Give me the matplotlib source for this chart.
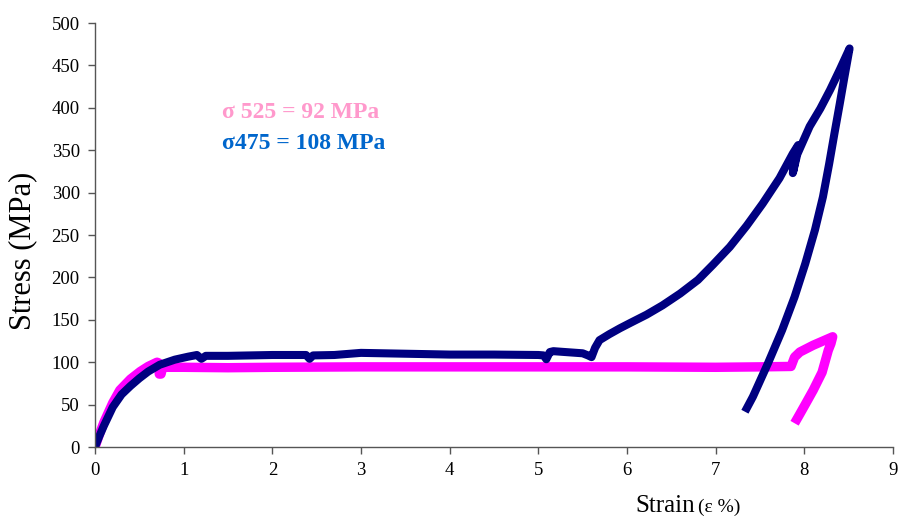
import matplotlib
matplotlib.use("Agg")
import matplotlib.pyplot as plt

# sigma 525 curve (magenta)
m_strain = [0, 0.05, 0.1, 0.2, 0.28, 0.4, 0.51, 0.6, 0.7, 0.72, 0.725, 0.745, 0.76, 0.8,
            1.0, 1.5, 2.0, 3.0, 4.0, 5.0, 6.0, 7.0, 7.5, 7.85, 7.89, 7.95, 8.1, 8.32,
            8.3, 8.27, 8.2, 8.1, 8.02, 7.95, 7.89]
m_stress = [0, 15, 29, 52, 67, 80, 89, 95, 100, 99, 86, 86, 93, 94,
            94, 93.5, 94, 94.5, 94.5, 94.5, 94.5, 94, 94.5, 95, 106, 112, 120, 130,
            122, 114, 88, 67, 52, 39, 28]

# sigma 475 curve (navy)
n_strain = [0, 0.05, 0.1, 0.2, 0.3, 0.4, 0.5, 0.6, 0.73, 0.9, 1.05, 1.15, 1.2, 1.25,
            1.5, 2.0, 2.38, 2.42, 2.46, 2.7, 3.0, 3.5, 4.0, 4.5, 5.0, 5.06, 5.09,
            5.13, 5.17, 5.3, 5.5, 5.56, 5.6, 5.64, 5.69, 5.8, 5.92, 6.05, 6.22,
            6.4, 6.6, 6.8, 6.97, 7.16, 7.35, 7.53, 7.72, 7.87, 7.93,
            7.87, 7.92, 8.06, 8.18, 8.29, 8.4, 8.51,
            8.45, 8.4, 8.34, 8.28, 8.21, 8.12, 8.01, 7.89, 7.75, 7.59, 7.42, 7.33]
n_stress = [0, 13, 25, 47, 62, 72, 81, 89, 97, 103, 106.5, 108.5, 104, 107.5,
            107.5, 108.5, 108.5, 104, 108, 108.5, 111, 110, 109, 109, 108.5, 108, 103.5,
            112, 113, 112, 110.5, 108, 106, 117, 126, 133, 140, 147, 156,
            167, 181, 197, 215, 236, 261, 287, 317, 346, 356,
            323, 345, 378, 399, 421, 445, 470,
            435, 405, 370, 334, 295, 256, 216, 177, 138, 98.7, 59.3, 41.6]

labels = ["σ 525 = 92 MPa", "σ475 = 108 MPa"]
label_colors = ["#FF99CC", "#0066CC"]

serif = ["Liberation Serif", "DejaVu Serif"]
plt.rcParams["font.family"] = serif

fig = plt.figure(figsize=(8.98, 5.16), dpi=100)
ax = fig.add_axes([95 / 898, 69 / 516, 798 / 898, 424 / 516])

ax.plot(m_strain, m_stress, color="#FF00FF", lw=6.8, solid_joinstyle="round",
        solid_capstyle="butt")
ax.plot(n_strain, n_stress, color="#000080", lw=5.8, solid_joinstyle="round",
        solid_capstyle="butt")

ax.set_xlim(0, 9)
ax.set_ylim(0, 500)
ax.set_xticks(range(0, 10))
ax.set_yticks(range(0, 501, 50))
for s in ["top", "right"]:
    ax.spines[s].set_visible(False)
for s in ["left", "bottom"]:
    ax.spines[s].set_color("#555555")
    ax.spines[s].set_linewidth(1.0)
ax.tick_params(direction="out", length=5, width=1.0, color="#555555",
               labelsize=13.5, pad=6)

ax.set_ylabel("Stress (MPa)", fontsize=22)
ax.yaxis.set_label_coords(-0.072, 0.462)

ax.text(1.43, 394, labels[0], color=label_colors[0], fontsize=17,
        fontweight="bold", va="center", ha="left")
ax.text(1.43, 358, labels[1], color=label_colors[1], fontsize=17,
        fontweight="bold", va="center", ha="left")

fig.text(635 / 898, 4 / 516, "Strain", fontsize=18, ha="left", va="baseline")
fig.text(698 / 898, 4 / 516, "(ε %)", fontsize=14, ha="left", va="baseline")

fig.savefig("out.png", dpi=100)
